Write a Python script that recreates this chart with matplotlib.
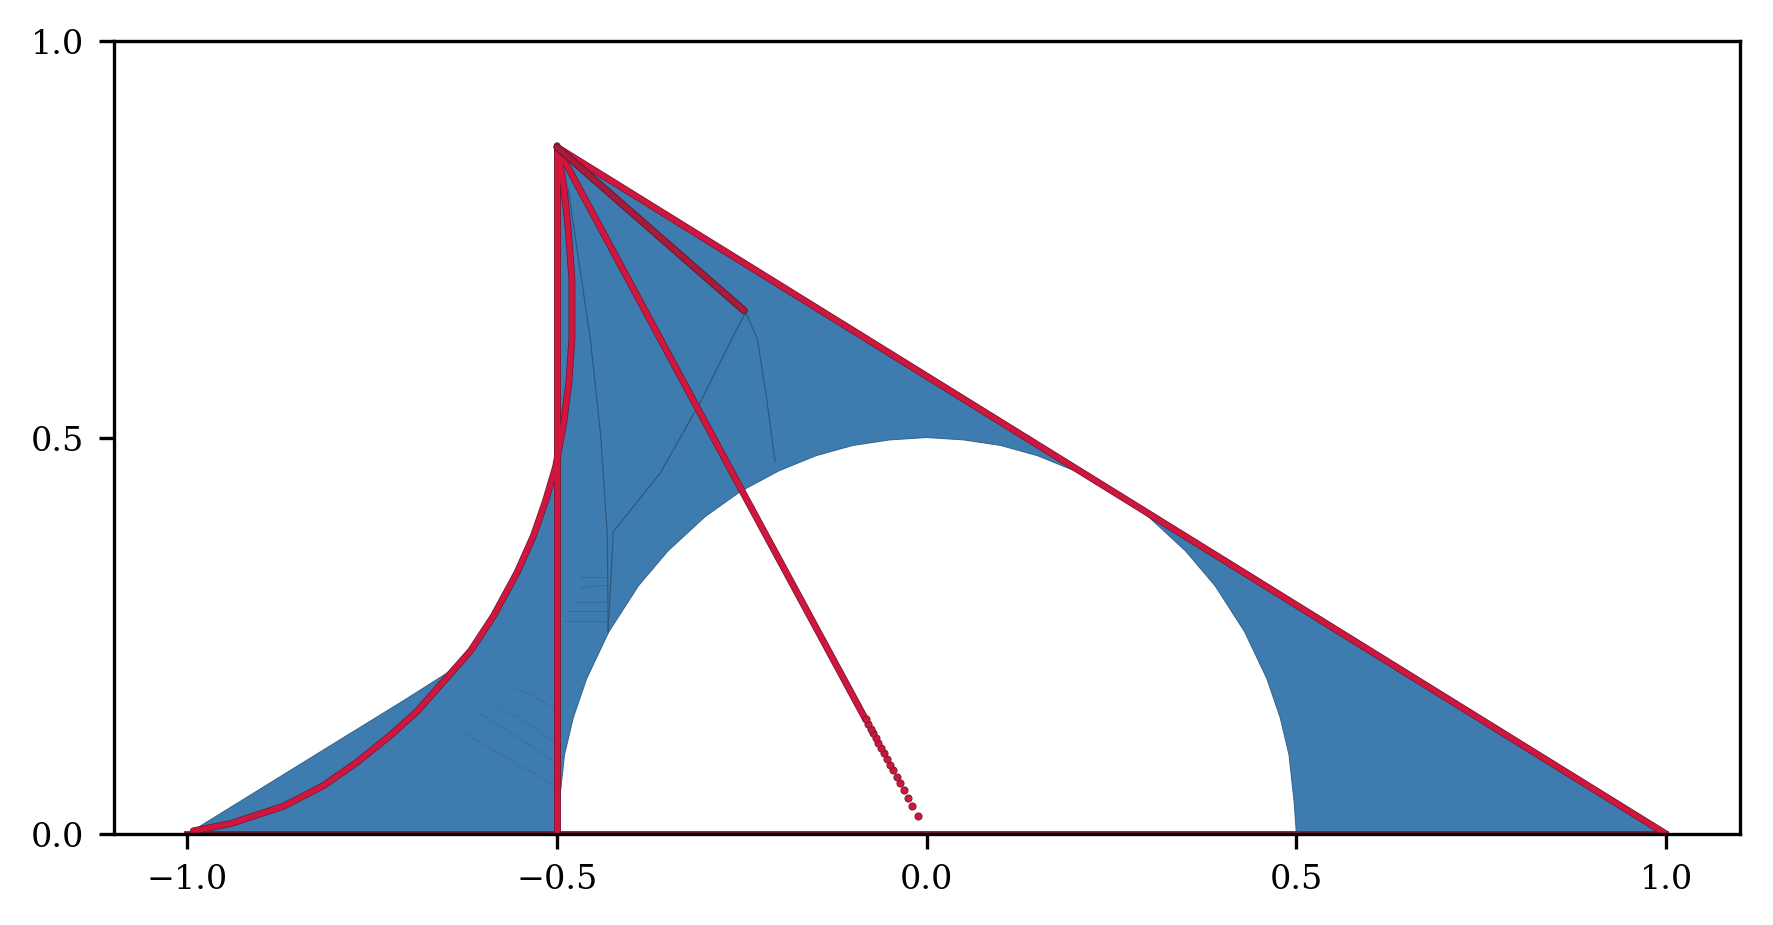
import matplotlib
matplotlib.use("Agg")
import matplotlib.pyplot as plt

plt.rcParams['font.family'] = ['DejaVu Serif']
plt.rcParams['font.size'] = 8

# outline of the blue region
region_x = [-1.0, -0.816, -0.708, -0.642, -0.617, -0.586, -0.567, -0.554, -0.532, -0.516, -0.502,
            -0.5, -0.5, 0.25, 1.0, 0.5, 0.497, 0.49, 0.478, 0.46, 0.43, 0.39, 0.35, 0.3,
            0.252, 0.2, 0.15, 0.1, 0.05, 0.0, -0.05, -0.1, -0.15, -0.2, -0.252, -0.3, -0.35,
            -0.39, -0.43, -0.46, -0.478, -0.49, -0.497, -0.497, -1.0]
region_y = [0.0, 0.106, 0.168, 0.207, 0.231, 0.275, 0.3, 0.33, 0.376, 0.419, 0.463,
            0.7, 0.868, 0.433, 0.0, 0.0, 0.04, 0.1, 0.147, 0.196, 0.255, 0.313, 0.357, 0.4,
            0.432, 0.458, 0.477, 0.49, 0.497, 0.5, 0.497, 0.49, 0.477, 0.458, 0.432, 0.4, 0.357,
            0.313, 0.255, 0.196, 0.147, 0.1, 0.04, 0.0, 0.0]

# dark creases inside the region
crease_a_x = [-0.485, -0.455, -0.441, -0.432, -0.431]
crease_a_y = [0.813, 0.624, 0.502, 0.376, 0.255]
crease_b_x = [-0.245, -0.266, -0.306, -0.36, -0.424, -0.431]
crease_b_y = [0.658, 0.62, 0.545, 0.456, 0.381, 0.255]
crease_c_x = [-0.245, -0.229, -0.216, -0.205]
crease_c_y = [0.658, 0.624, 0.545, 0.469]

# short dark strokes of the fan right of the vertical
fan_x0 = [-0.491, -0.4866, -0.4776, -0.4686, -0.4686]
fan_x1 = [-0.4325, -0.4325, -0.4325, -0.4325, -0.4325]
fan_y0 = [0.269, 0.2816, 0.2921, 0.311, 0.3237]
fan_y1 = [0.269, 0.2816, 0.2921, 0.3135, 0.3237]

# arcs in the lower left
arcs = [
    ([-0.5587, -0.5317, -0.5024], [0.185, 0.1744, 0.1576]),
    ([-0.5813, -0.5452, -0.5024], [0.1597, 0.1429, 0.1156]),
    ([-0.6038, -0.5632, -0.5024], [0.1513, 0.1282, 0.0904]),
    ([-0.6264, -0.5813, -0.5024], [0.1282, 0.103, 0.0609]),
]

# red series
top_x = [-0.5, 1.0]
top_y = [0.866, 0.0]
vert_x = [-0.5, -0.5]
vert_y = [0.0, 0.866]
base_x = [-1.0, 1.0]
base_y = [0.0, 0.0]
curve_x = [-0.992, -0.942, -0.87, -0.816, -0.77, -0.726, -0.689, -0.654, -0.617, -0.586, -0.554,
           -0.532, -0.516, -0.502, -0.491, -0.484, -0.48, -0.48, -0.485, -0.491, -0.5]
curve_y = [0.004, 0.013, 0.035, 0.061, 0.091, 0.124, 0.155, 0.192, 0.231, 0.275, 0.33,
           0.376, 0.419, 0.463, 0.519, 0.57, 0.624, 0.7, 0.763, 0.817, 0.868]
ray_x = [-0.5, -0.25, -0.0827]
ray_y = [0.866, 0.433, 0.1446]
short_x = [-0.5, -0.247]
short_y = [0.866, 0.66]
tail_x = [-0.0124, -0.0205, -0.026, -0.0314, -0.0368, -0.0408, -0.0462, -0.0503, -0.0543,
          -0.0584, -0.0625, -0.0665, -0.0692, -0.0733, -0.076, -0.08, -0.0827]
tail_y = [0.0223, 0.0349, 0.045, 0.0551, 0.0639, 0.0715, 0.0803, 0.0866, 0.0942,
          0.1018, 0.1081, 0.1144, 0.1207, 0.127, 0.132, 0.1383, 0.1446]

xticks = [-1.0, -0.5, 0.0, 0.5, 1.0]
yticks = [0.0, 0.5, 1.0]

fig = plt.figure(figsize=(1773 / 300, 926 / 300), dpi=300)
ax = fig.add_axes([113.5 / 1773, 91 / 926, 1626.5 / 1773, 793 / 926])

ax.fill(region_x, region_y, color='#3e7cb0', ec='#33658f', lw=0.25, zorder=1)
for cx, cy in [(crease_a_x, crease_a_y), (crease_b_x, crease_b_y), (crease_c_x, crease_c_y)]:
    ax.plot(cx, cy, color='#2c5a80', lw=0.3, zorder=1.1)
for i in range(len(fan_x0)):
    ax.plot([fan_x0[i], fan_x1[i]], [fan_y0[i], fan_y1[i]], color='#336a96', lw=0.2, zorder=1.1)
for ax_, ay_ in arcs:
    ax.plot(ax_, ay_, color='#376f9c', lw=0.2, zorder=1.1)

# red lines: dark edge underneath, crimson on top
for lx, ly in [(top_x, top_y), (vert_x, vert_y), (curve_x, curve_y), (ray_x, ray_y)]:
    ax.plot(lx, ly, color='#6b1a30', lw=1.65, zorder=1.5, solid_capstyle='round')
    ax.plot(lx, ly, color='#d0163f', lw=1.3, zorder=1.6, solid_capstyle='round')
ax.plot(short_x, short_y, color='#5e1529', lw=1.75, zorder=1.7, solid_capstyle='round')
ax.plot(short_x, short_y, color='#a81a3c', lw=1.35, zorder=1.8, solid_capstyle='round')
ax.plot(base_x, base_y, color='#8a1533', lw=1.4, zorder=1.5)
ax.scatter(tail_x, tail_y, s=3.0, c='#d0163f', edgecolors='#6b1a30', linewidths=0.2, zorder=1.6)

ax.set_xlim(-1.1, 1.1)
ax.set_ylim(0, 1)
ax.set_xticks(xticks)
ax.set_yticks(yticks)

plt.savefig('out.png', dpi=300)
